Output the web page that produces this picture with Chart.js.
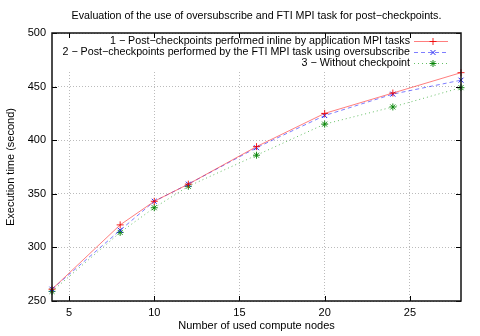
<!DOCTYPE html>
<html>
<head>
<meta charset="utf-8">
<script src="https://cdn.jsdelivr.net/npm/chart.js@4.4.0/dist/chart.umd.min.js"></script>
<style>
  html, body { margin: 0; padding: 0; background: #fff; }
</style>
</head>
<body>
<canvas id="chart" width="480" height="336"></canvas>
<script>
const nodes = [4, 8, 10, 12, 16, 20, 24, 28];
const inlineTimes = [261, 321, 343, 359, 394, 425, 444, 463];
const ftiTimes = [261, 316, 343, 359, 393, 423, 443, 456];
const noCkptTimes = [259, 314, 337, 357, 386, 415, 431, 449];
const xTicks = [5, 10, 15, 20, 25];
const yTicks = [250, 300, 350, 400, 450, 500];
const seriesLabels = [
  '1 \u2212 Post\u2212checkpoints performed inline by application MPI tasks',
  '2 \u2212 Post\u2212checkpoints performed by the FTI MPI task using oversubscribe',
  '3 \u2212 Without checkpoint'
];
const titleText = 'Evaluation of the use of oversubscribe and FTI MPI task for post\u2212checkpoints.';

const FONT = '"Liberation Sans", Arial, sans-serif';
Chart.defaults.font.family = FONT;
Chart.defaults.font.size = 11;
Chart.defaults.color = '#000';

const toPoints = (vals) => nodes.map((n, i) => ({ x: n, y: vals[i] }));

// title, opaque key, border box and inward ticks like gnuplot
const gnuplotFrame = {
  id: 'gnuplotFrame',
  afterDatasetsDraw(chart) {
    const { ctx, chartArea: a, scales: { x, y } } = chart;
    ctx.save();

    ctx.font = '10.7px ' + FONT;
    ctx.fillStyle = '#000';
    ctx.textAlign = 'center';
    ctx.textBaseline = 'middle';
    ctx.fillText(titleText, (a.left + a.right) / 2, 16);

    // key
    ctx.fillStyle = '#fff';
    ctx.fillRect(a.left + 10, a.top + 1, a.right - a.left - 11, 37);
    chart.data.datasets.forEach((ds, i) => {
      const yy = a.top + 8.5 + i * 11;
      ctx.fillStyle = '#000';
      ctx.textAlign = 'right';
      ctx.fillText(ds.label, a.right - 51, yy);
      ctx.strokeStyle = ds.borderColor;
      ctx.lineWidth = 1;
      ctx.setLineDash(ds.borderDash || []);
      ctx.beginPath();
      ctx.moveTo(a.right - 47, yy);
      ctx.lineTo(a.right - 13, yy);
      ctx.stroke();
      ctx.setLineDash([]);
      ctx.strokeStyle = ds.pointBorderColor;
      Chart.helpers.drawPoint(ctx, { pointStyle: ds.pointStyle, radius: ds.pointRadius, borderWidth: 1, rotation: 0 }, a.right - 28, yy);
    });

    // ticks
    ctx.strokeStyle = '#000';
    ctx.lineWidth = 1;
    ctx.beginPath();
    xTicks.forEach(v => {
      const px = Math.round(x.getPixelForValue(v)) + 0.5;
      ctx.moveTo(px, a.bottom); ctx.lineTo(px, a.bottom - 5);
      ctx.moveTo(px, a.top); ctx.lineTo(px, a.top + 5);
    });
    yTicks.forEach(v => {
      const py = Math.round(y.getPixelForValue(v)) + 0.5;
      ctx.moveTo(a.left, py); ctx.lineTo(a.left + 5, py);
      ctx.moveTo(a.right, py); ctx.lineTo(a.right - 5, py);
    });
    ctx.stroke();

    ctx.lineWidth = 1.5;
    ctx.strokeStyle = '#111';
    ctx.strokeRect(a.left, a.top, a.right - a.left, a.bottom - a.top);
    ctx.restore();
  }
};

new Chart(document.getElementById('chart'), {
  type: 'line',
  data: {
    datasets: [
      {
        label: seriesLabels[0],
        data: toPoints(inlineTimes),
        borderColor: 'rgba(255, 40, 40, 0.6)',
        pointBorderColor: 'rgba(240, 0, 0, 0.85)',
        pointStyle: 'cross',
        pointRadius: 3.5
      },
      {
        label: seriesLabels[1],
        data: toPoints(ftiTimes),
        borderColor: 'rgba(40, 40, 255, 0.6)',
        pointBorderColor: 'rgba(0, 0, 240, 0.85)',
        borderDash: [4, 3],
        pointStyle: 'crossRot',
        pointRadius: 3.5
      },
      {
        label: seriesLabels[2],
        data: toPoints(noCkptTimes),
        borderColor: 'rgba(0, 150, 0, 0.6)',
        pointBorderColor: 'rgba(0, 130, 0, 0.9)',
        borderDash: [1, 3],
        pointStyle: 'star',
        pointRadius: 3.5
      }
    ].map(ds => ({ ...ds, borderWidth: 1, pointBorderWidth: 1, tension: 0, fill: false, clip: false }))
  },
  options: {
    responsive: false,
    animation: false,
    layout: { padding: { top: 33, right: 19, left: 0, bottom: 0 } },
    plugins: {
      legend: { display: false },
      tooltip: { enabled: false }
    },
    scales: {
      x: {
        type: 'linear',
        min: 4,
        max: 28,
        afterBuildTicks: (s) => { s.ticks = xTicks.map(value => ({ value })); },
        afterFit: (s) => { s.height = 35; },
        grid: { color: '#bbbbbb', drawTicks: false },
        border: { display: false, dash: [1, 2] },
        ticks: { padding: 5, maxRotation: 0 },
        title: { display: true, text: 'Number of used compute nodes', padding: { top: 0, bottom: 3 } }
      },
      y: {
        min: 250,
        max: 500,
        afterBuildTicks: (s) => { s.ticks = yTicks.map(value => ({ value })); },
        afterFit: (s) => { s.width = 52; },
        grid: { color: '#bbbbbb', drawTicks: false },
        border: { display: false, dash: [1, 2] },
        ticks: { padding: 6 },
        title: { display: true, text: 'Execution time (second)', padding: { top: 4, bottom: 0 } }
      }
    }
  },
  plugins: [gnuplotFrame]
});
</script>
</body>
</html>
